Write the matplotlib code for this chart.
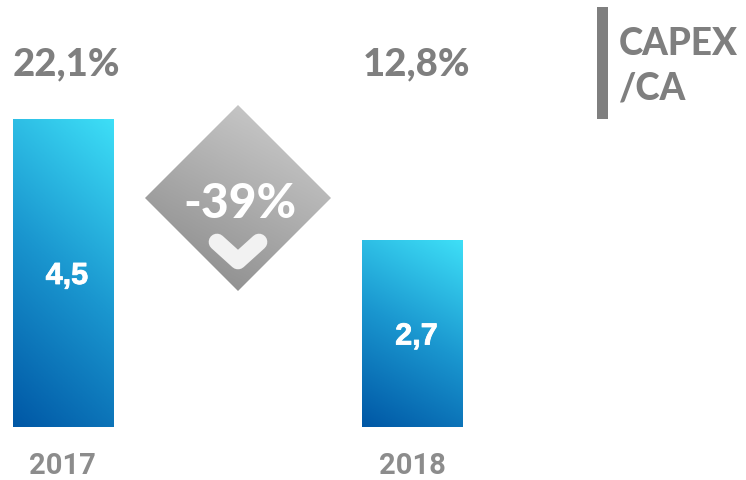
import matplotlib
matplotlib.use('Agg')
import matplotlib.pyplot as plt
import matplotlib.patheffects as pe
from matplotlib.colors import LinearSegmentedColormap
from matplotlib.patches import Polygon, Rectangle
import numpy as np

# values
years = ['2017', '2018']
capex = [4.5, 2.73]
capex_labels = ['4,5', '2,7']
ratio_labels = ['22,1%', '12,8%']
change_label = '-39%'
title_lines = ['CAPEX', '/CA']

W, H = 746, 480
BLUE = LinearSegmentedColormap.from_list('blue', ['#0057a5', '#1a96cf', '#3edff7'])
GREY = LinearSegmentedColormap.from_list('grey', ['#858585', '#d2d2d2'])


def diag_gradient(angle_x, angle_y):
    x, y = np.meshgrid(np.linspace(0, 1, 200), np.linspace(0, 1, 200))
    g = x * angle_x + y * angle_y
    return g / g.max()


fig = plt.figure(figsize=(W / 100, H / 100), dpi=100)

# bars: category 0 centred at 63 px, category 1 at 412.5 px, zero line at 427 px
ax = fig.add_axes([0, 0, 1, 1])
px_x = 349.5
px_y = 308 / 4.5
ax.axis('off')

bars = ax.bar(range(len(capex)), capex, width=100.4 / px_x, color='none')
for bar in bars:
    x0, y0 = bar.get_x(), bar.get_y()
    im = ax.imshow(diag_gradient(0.3, 1), origin='lower', cmap=BLUE, aspect='auto',
                   extent=[x0, x0 + bar.get_width(), y0, y0 + bar.get_height()])
    im.set_clip_path(bar)
ax.set_xlim(-62.9 / px_x, (W - 62.9) / px_x)
ax.set_ylim(-(H - 427) / px_y, 427 / px_y)

for i, v in enumerate(capex):
    t = ax.text(i + 4 / px_x, v * 0.5 - 3 / px_y, capex_labels[i], color='white',
                fontsize=22, fontweight='bold', family='Liberation Sans',
                ha='center', va='center')
    t.set_path_effects([pe.withStroke(linewidth=0.6, foreground='white')])
    ax.text(i, -39 / px_y, years[i], color='#8c8c8c', fontsize=21, fontweight='bold',
            family='Roboto', ha='center', va='center')

# everything else sits in pixel coordinates
over = fig.add_axes([0, 0, 1, 1])
over.axis('off')
over.patch.set_alpha(0)

for x, label in zip([66, 416.5], ratio_labels):
    over.text(x, 64, label, color='#7f7f7f', fontsize=27.5, fontweight='black',
              family='Lato', ha='center', va='center')

diamond = Polygon([(238, 105), (331, 198), (238, 291), (145, 198)], closed=True,
                  facecolor='none', edgecolor='none')
over.add_patch(diamond)
im = over.imshow(diag_gradient(0.55, 1), origin='lower', cmap=GREY, aspect='auto',
                 extent=[145, 331, 291, 105])
im.set_clip_path(diamond)
over.set_xlim(0, W)
over.set_ylim(H, 0)

over.text(240, 204, change_label, color='white', fontsize=34.5, fontweight='black',
          family='Lato', ha='center', va='center')
over.plot([217, 238, 259], [242, 261, 242], color='#f2f2f2', lw=12,
          solid_capstyle='round', solid_joinstyle='round')

over.add_patch(Rectangle((597, 7), 10.5, 112, facecolor='#7f7f7f', edgecolor='none'))
over.text(619, 44, title_lines[0], color='#7f7f7f', fontsize=26.5, fontweight='black',
          family='Lato', ha='left', va='center')
over.text(619, 89, title_lines[1], color='#7f7f7f', fontsize=26.5, fontweight='black',
          family='Lato', ha='left', va='center')

fig.savefig('out.png', dpi=100)
